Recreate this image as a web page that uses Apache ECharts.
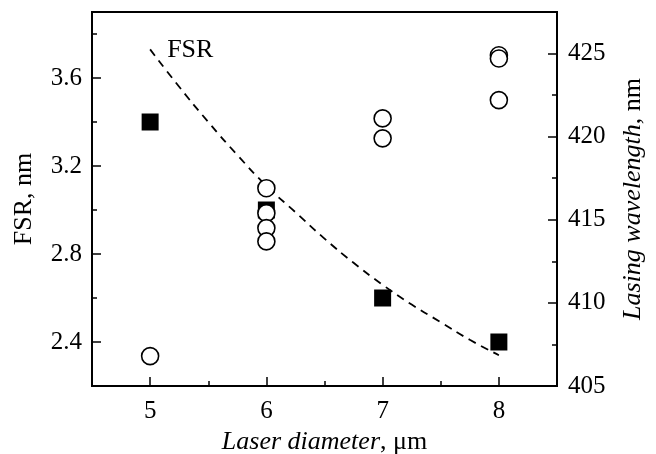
<!DOCTYPE html>
<html>
<head>
<meta charset="utf-8">
<script src="https://cdn.jsdelivr.net/npm/echarts@6/dist/echarts.min.js"></script>
<style>
  html, body { margin: 0; padding: 0; background: #fff; }
  #chart { width: 656px; height: 454px; }
</style>
</head>
<body>
<div id="chart"></div>
<script>
// values
var diameters = [5, 6, 7, 8];
var fsrMeasured = [3.40, 3.00, 2.60, 2.40];

var lasingD = [5, 6, 6, 6, 6, 7, 7, 8, 8, 8];
var lasingNm = [406.8, 416.9, 415.4, 414.5, 413.7, 421.1, 419.9, 424.9, 424.7, 422.2];

// dashed FSR curve, read at quarter steps
var fsrCurveD = [5, 5.25, 5.5, 5.75, 6, 6.25, 6.5, 6.75, 7, 7.25, 7.5, 7.75, 8];
var fsrCurve = [3.73, 3.56, 3.40, 3.25, 3.11, 2.99, 2.87, 2.76, 2.66, 2.57, 2.49, 2.41, 2.34];

// tick labels
var xTicks = [5, 6, 7, 8];
var xMinor = [5.5, 6.5, 7.5];
var fsrTicks = [2.4, 2.8, 3.2, 3.6];
var fsrMinor = [2.6, 3.0, 3.4, 3.8];
var lasingTicks = [405, 410, 415, 420, 425];
var lasingMinor = [407.5, 412.5, 417.5, 422.5];

var FONT = 'Liberation Serif';
var chart = echarts.init(document.getElementById('chart'));

function zipPts(xs, ys) {
    return xs.map(function (x, i) { return [x, ys[i]]; });
}

var lineDefault = { lineStyle: { color: '#000', width: 2 } };
var labelDefault = { color: '#000', fontFamily: FONT, fontSize: 25 };

var curveData = zipPts(fsrCurveD, fsrCurve);
curveData[0] = {
    value: curveData[0],
    label: {
        show: true, formatter: 'FSR', position: 'right', offset: [12, 1],
        color: '#000', fontFamily: FONT, fontSize: 26
    }
};

chart.setOption({
    animation: false,
    grid: {
        left: 92, right: 99, top: 12, bottom: 68,
        outerBoundsMode: 'none',
        containLabel: false,
        show: true, borderColor: '#000', borderWidth: 2
    },
    xAxis: [{
        type: 'value', position: 'bottom', min: 4.5, max: 8.5,
        axisLine: lineDefault,
        axisTick: { inside: true, length: 9, customValues: xTicks, lineStyle: { color: '#000', width: 1.5 } },
        axisLabel: Object.assign({ customValues: xTicks, margin: 13 }, labelDefault),
        splitLine: { show: false },
        name: '{i|Laser diameter}, μm',
        nameLocation: 'middle',
        nameGap: 39,
        nameTextStyle: {
            color: '#000', fontFamily: FONT, fontSize: 26,
            rich: { i: { fontStyle: 'italic', fontFamily: FONT, fontSize: 26, color: '#000' } }
        }
    }, {
        type: 'value', position: 'bottom', min: 4.5, max: 8.5,
        axisLine: { show: false },
        axisTick: { inside: true, length: 5, customValues: xMinor, lineStyle: { color: '#000', width: 1.5 } },
        axisLabel: { show: false },
        splitLine: { show: false }
    }],
    yAxis: [{
        type: 'value', position: 'left', min: 2.2, max: 3.9,
        axisLine: lineDefault,
        axisTick: { inside: true, length: 9, customValues: fsrTicks, lineStyle: { color: '#000', width: 1.5 } },
        axisLabel: Object.assign({ customValues: fsrTicks, margin: 10, formatter: function (v) { return v.toFixed(1); } }, labelDefault),
        splitLine: { show: false },
        name: 'FSR, nm',
        nameLocation: 'middle',
        nameRotate: 90,
        nameGap: 55,
        nameTextStyle: { color: '#000', fontFamily: FONT, fontSize: 26 }
    }, {
        type: 'value', position: 'right', min: 405, max: 427.5,
        axisLine: lineDefault,
        axisTick: { inside: true, length: 9, customValues: lasingTicks, lineStyle: { color: '#000', width: 1.5 } },
        axisLabel: Object.assign({ customValues: lasingTicks, margin: 11 }, labelDefault),
        splitLine: { show: false },
        name: '{i|Lasing wavelength}, nm',
        nameLocation: 'middle',
        nameRotate: 90,
        nameGap: 63,
        nameTextStyle: {
            color: '#000', fontFamily: FONT, fontSize: 26,
            rich: { i: { fontStyle: 'italic', fontFamily: FONT, fontSize: 26, color: '#000' } }
        }
    }, {
        type: 'value', position: 'left', min: 2.2, max: 3.9,
        axisLine: { show: false },
        axisTick: { inside: true, length: 5, customValues: fsrMinor, lineStyle: { color: '#000', width: 1.5 } },
        axisLabel: { show: false },
        splitLine: { show: false }
    }, {
        type: 'value', position: 'right', min: 405, max: 427.5,
        axisLine: { show: false },
        axisTick: { inside: true, length: 5, customValues: lasingMinor, lineStyle: { color: '#000', width: 1.5 } },
        axisLabel: { show: false },
        splitLine: { show: false }
    }],
    series: [{
        name: 'FSR curve',
        type: 'line',
        xAxisIndex: 0, yAxisIndex: 0,
        smooth: true,
        symbol: 'circle',
        symbolSize: 0,
        showSymbol: true,
        itemStyle: { color: '#000' },
        lineStyle: { color: '#000', width: 1.8, type: [8, 6] },
        data: curveData,
        z: 2
    }, {
        name: 'FSR',
        type: 'scatter',
        xAxisIndex: 0, yAxisIndex: 0,
        symbol: 'rect',
        symbolSize: 17,
        itemStyle: { color: '#000', opacity: 1 },
        data: zipPts(diameters, fsrMeasured),
        z: 3
    }, {
        name: 'Lasing wavelength',
        type: 'scatter',
        xAxisIndex: 0, yAxisIndex: 1,
        symbol: 'circle',
        symbolSize: 17,
        itemStyle: { color: '#fff', borderColor: '#000', borderWidth: 1.6, opacity: 1 },
        data: zipPts(lasingD, lasingNm),
        z: 4
    }]
});
</script>
</body>
</html>
